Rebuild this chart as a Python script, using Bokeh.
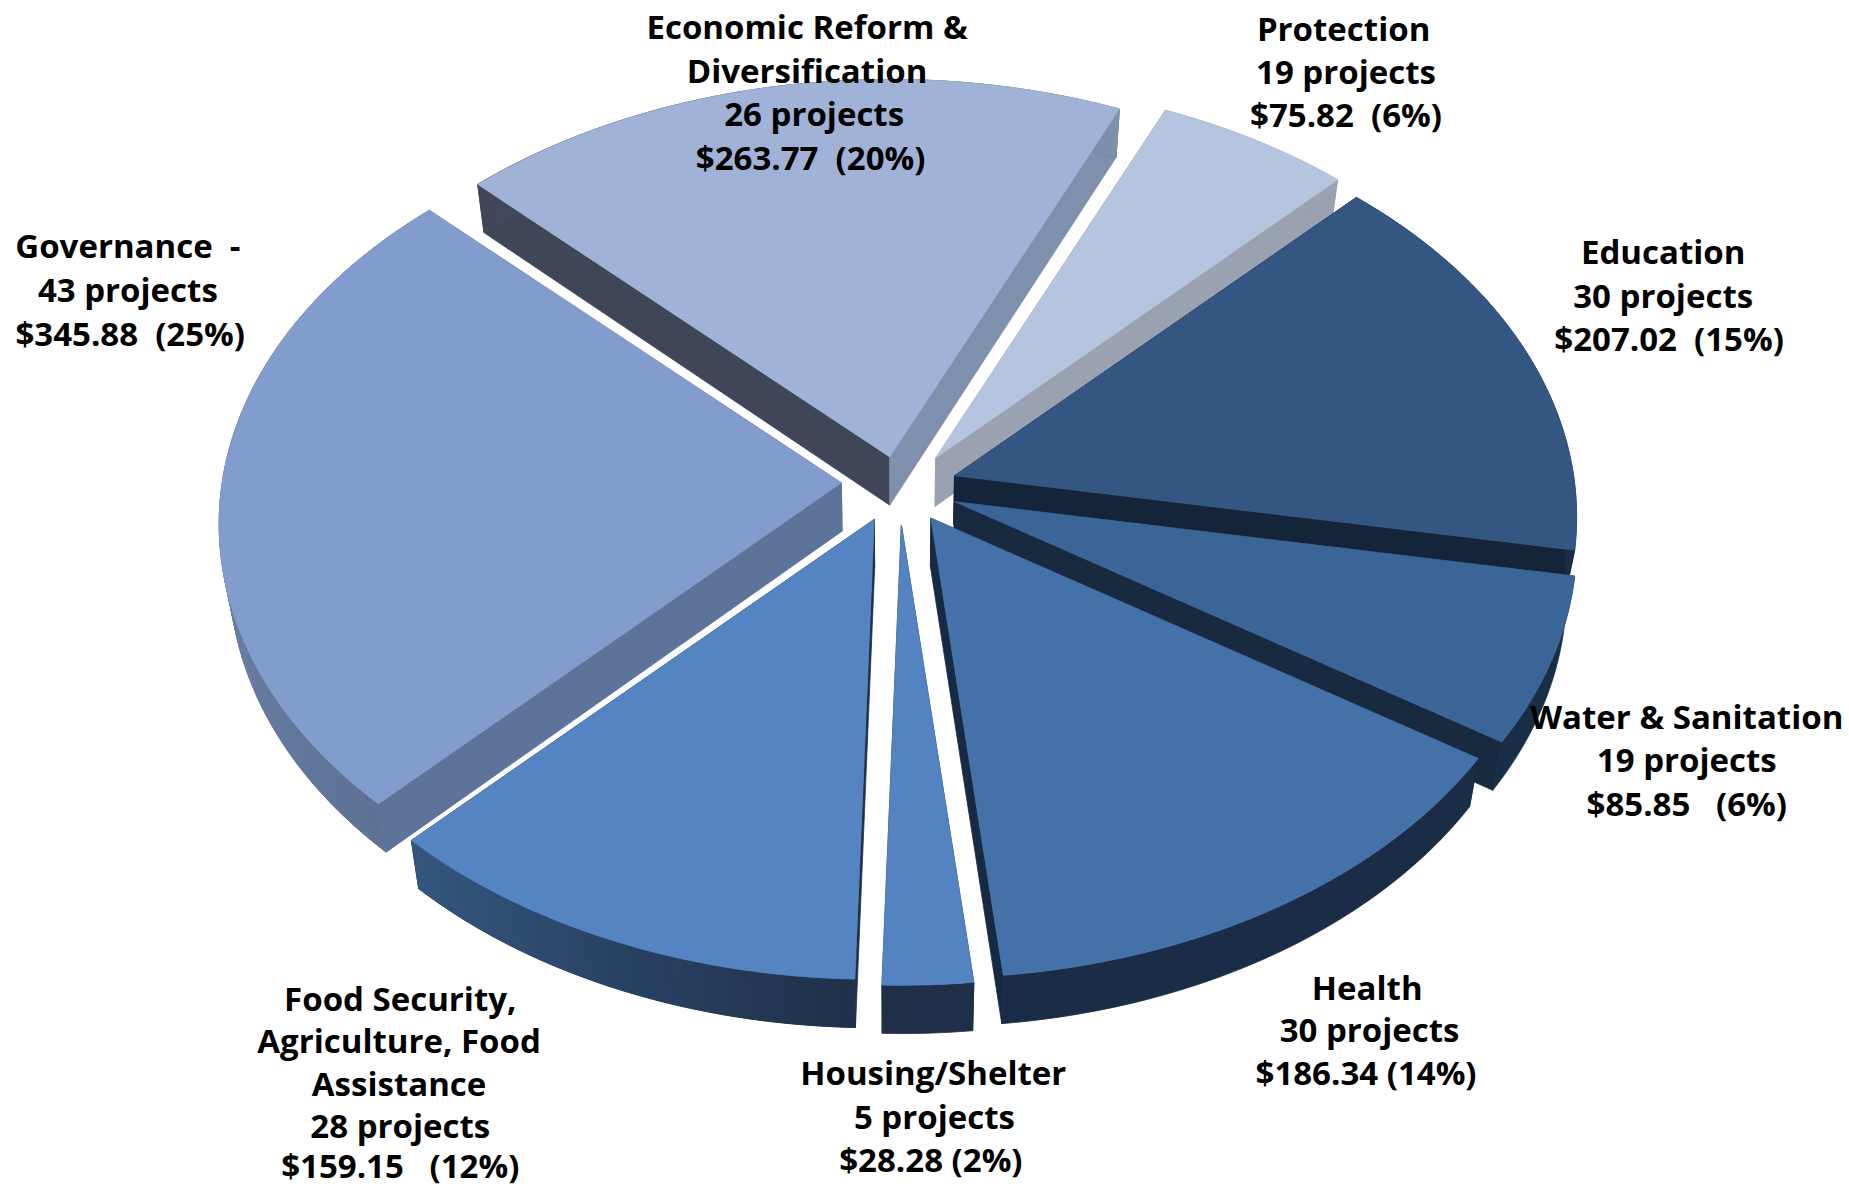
from bokeh.plotting import figure, ColumnDataSource
from bokeh.models import Range1d
from bokeh.core.properties import value
from bokeh.embed import file_html
from bokeh.resources import INLINE
import numpy as np

# ---- data ----
categories = ["Governance", "Economic Reform & Diversification", "Protection", "Education",
              "Water & Sanitation", "Health", "Housing/Shelter", "Food Security, Agriculture, Food Assistance"]
amounts = [345.88, 263.77, 75.82, 207.02, 85.85, 186.34, 28.28, 159.15]
projects = [43, 26, 19, 30, 19, 30, 5, 28]
percents = [25, 20, 6, 15, 6, 14, 2, 12]
label_heads = [["Governance \u00a0-"], ["Economic Reform &", "Diversification"], ["Protection"], ["Education"],
               ["Water & Sanitation"], ["Health"], ["Housing/Shelter"],
               ["Food Security,", "Agriculture, Food", "Assistance"]]
money_sep = ["\u00a0 ", "\u00a0 ", "\u00a0 ", "\u00a0 ", "\u00a0\u00a0 ", " ", " ", "\u00a0\u00a0 "]

# ---- styles & layout (reference pixel units at 1568 wide, scaled by S) ----
W, H = 1849, 1188
S = 1849 / 1568
FONT = "Open Sans"
FONT_SIZE = "33px"
START = 224.0
WARP_BACK, WARP_RIGHT = 2.0, 1.5
CX, CY = 762.0, 420.0
RX, RY, PERSP = 525.0, 351.6, 0.0986
DEPTH, DEPTH_X = 41.0, 0.985
top_colors = ["#829dcd", "#a0b3d6", "#b5c4df", "#345683", "#3c6597", "#4472a8", "#5383c1", "#5484c2"]
rim_start = ["#5e7296", "#3e4658", "#9aa1b1", "#1a2d47", "#1a2d47", "#1b2c47", "#1e2f47", "#1f3049"]
rim_end = ["#8197c1", "#7f90ad", "#9aa1b1", "#1a2d47", "#1a2d47", "#1b2c47", "#1e2f47", "#35567f"]
wall_start = ["#5e7399", "#3e4658", "#9aa1b1", "#14253a", "#182a40", "#172a44", "#1e2f47", "#1f3049"]
wall_end = ["#5e7399", "#7f90ad", "#9aa1b1", "#14253a", "#182a40", "#172a44", "#1e2f47", "#1f3049"]
apex_dx = [-49, -8, 31, 47, 47, 27, 2, -21]
apex_dy = [-11, -33, -32, -17, 5, 19, 25, 20]
paint_order = [1, 2, 0, 3, 4, 5, 6, 7]
label_x = [[108, 108, 110], [684, 684, 690, 687], [1139, 1141, 1141], [1410, 1410, 1415],
           [1430, 1430, 1430], [1159, 1161, 1158], [791, 792, 789], [339, 338, 338, 339, 339]]
label_y = [[208, 245, 282], [22, 59, 96, 133], [24, 60, 97], [213, 250, 287],
           [607, 644, 681], [837, 873, 909], [909, 946, 983], [846, 882, 918, 954, 988]]


def mix(c1, c2, t):
    a = [int(c1[i:i + 2], 16) for i in (1, 3, 5)]
    b = [int(c2[i:i + 2], 16) for i in (1, 3, 5)]
    return "#%02x%02x%02x" % tuple(int(round(x + (y - x) * t)) for x, y in zip(a, b))


def project(deg, ax, ay):
    rad = np.radians(deg)
    shift = WARP_BACK * np.maximum(0.0, np.cos(rad)) + WARP_RIGHT * np.maximum(0.0, np.sin(rad))
    rad = np.radians(deg - shift)
    u, v = np.sin(rad), np.cos(rad)
    w = 1.0 / (1.0 + PERSP * v)
    return ax + u * RX * w, ay - v * RY * w


def lower(x, y):
    return CX + (np.asarray(x) - CX) * DEPTH_X, np.asarray(y) + DEPTH


total = sum(amounts)
spans = [a / total * 360.0 for a in amounts]
starts = START + np.concatenate([[0], np.cumsum(spans)[:-1]])

xs, ys, colors = [], [], []


def add(px, py, col):
    xs.append(list(np.asarray(px, float) * S))
    ys.append(list(np.asarray(py, float) * S))
    colors.append(col)


for i in paint_order:
    a0, a1 = starts[i], starts[i] + spans[i]
    ax, ay = CX + apex_dx[i], CY + apex_dy[i]
    th = np.linspace(a0, a1, max(int(spans[i]) + 2, 4))
    tx, ty = project(th, ax, ay)
    bx, by = lower(tx, ty)
    apx, apy = lower(ax, ay)
    # radial walls
    add([ax, tx[0], bx[0], apx], [ay, ty[0], by[0], apy], wall_start[i])
    add([ax, tx[-1], bx[-1], apx], [ay, ty[-1], by[-1], apy], wall_end[i])
    # rim: one base shape, then a shade along it where the shade changes
    add(np.r_[tx, bx[::-1]], np.r_[ty, by[::-1]], mix(rim_start[i], rim_end[i], 0.5))
    if rim_start[i] != rim_end[i]:
        for k in range(len(th) - 1):
            t = k / max(len(th) - 2, 1)
            add([tx[k], tx[k + 1], bx[k + 1], bx[k]], [ty[k], ty[k + 1], by[k + 1], by[k]],
                mix(rim_start[i], rim_end[i], t))
    # top face
    add(np.r_[ax, tx], np.r_[ay, ty], top_colors[i])

p = figure(width=W, height=H, output_backend="svg", toolbar_location=None,
           x_range=Range1d(0, W), y_range=Range1d(H, 0),
           min_border=0, outline_line_color=None, background_fill_color="white",
           border_fill_color="white")
p.axis.visible = False
p.grid.visible = False

p.patches("x", "y", source=ColumnDataSource(dict(x=xs, y=ys, c=colors)),
          fill_color="c", line_color="c", line_width=0.8)

tx_, ty_, txt = [], [], []
for i in range(len(amounts)):
    lines = label_heads[i] + [f"{projects[i]} projects",
                              f"${amounts[i]:.2f}{money_sep[i]}({percents[i]}%)"]
    for line, lx, ly in zip(lines, label_x[i], label_y[i]):
        tx_.append(lx * S)
        ty_.append(ly * S)
        txt.append(line)
p.text("x", "y", text="t", source=ColumnDataSource(dict(x=tx_, y=ty_, t=txt)),
       text_font=value(FONT), text_font_style="bold", text_font_size=value(FONT_SIZE),
       text_color="#000000", text_align="center", text_baseline="middle")

open("out.html", "w").write(file_html(p, INLINE))
